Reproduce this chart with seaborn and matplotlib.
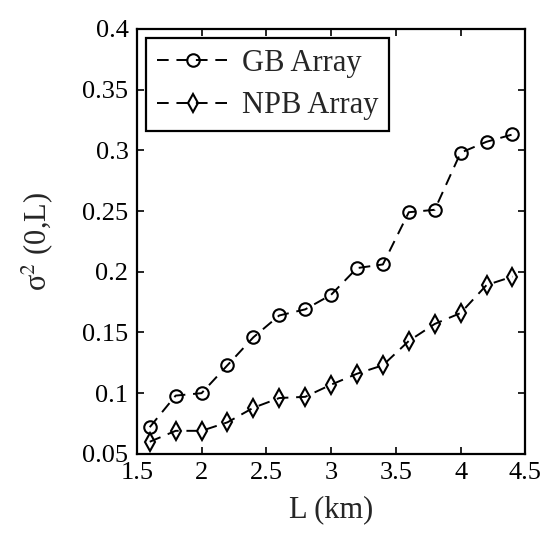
import numpy as np
import pandas as pd
import matplotlib
matplotlib.use('Agg')
import matplotlib.pyplot as plt
import seaborn as sns

# distances (km)
L_km = [1.6, 1.8, 2.0, 2.2, 2.4, 2.6, 2.8, 3.0, 3.2, 3.4, 3.6, 3.8, 4.0, 4.2, 4.4]
gb_array = [0.072, 0.098, 0.100, 0.123, 0.146, 0.164, 0.169, 0.181, 0.203, 0.206,
            0.249, 0.251, 0.298, 0.307, 0.313]
npb_array = [0.060, 0.069, 0.069, 0.076, 0.088, 0.096, 0.097, 0.107, 0.116, 0.123,
             0.143, 0.157, 0.166, 0.189, 0.196]

x_ticks = [1.5, 2, 2.5, 3, 3.5, 4, 4.5]
x_ticklabels = ['1.5', '2', '2.5', '3', '3.5', '4', '4.5']
y_ticks = [0.05, 0.1, 0.15, 0.2, 0.25, 0.3, 0.35, 0.4]
y_ticklabels = ['0.05', '0.1', '0.15', '0.2', '0.25', '0.3', '0.35', '0.4']

sns.set_style('ticks')
plt.rcParams['font.family'] = ['Liberation Serif', 'DejaVu Serif']
plt.rcParams['mathtext.fontset'] = 'stix'

df = pd.DataFrame({'L': L_km, 'GB Array': gb_array, 'NPB Array': npb_array})

fig = plt.figure(figsize=(5.45, 5.34), dpi=100)
ax = fig.add_axes([0.251, 0.150, 0.713, 0.796])

line_kw = dict(color='black', linewidth=1.4, dashes=(6, 4), markersize=9,
               mfc='none', mec='black', mew=1.5)
sns.lineplot(data=df, x='L', y='GB Array', marker='o', label='GB Array', ax=ax, **line_kw)
sns.lineplot(data=df, x='L', y='NPB Array', marker='d', label='NPB Array', ax=ax, **line_kw)

ax.set_xlim(1.5, 4.5)
ax.set_ylim(0.05, 0.4)
ax.set_xticks(x_ticks)
ax.set_xticklabels(x_ticklabels)
ax.set_yticks(y_ticks)
ax.set_yticklabels(y_ticklabels)
ax.tick_params(direction='in', top=True, right=True, length=5, width=1.2,
               labelsize=19, colors='black', pad=6)
for sp in ax.spines.values():
    sp.set_visible(True)
    sp.set_linewidth(1.6)
    sp.set_color('black')

ax.set_xlabel('L (km)', fontsize=22, labelpad=8)
ax.set_ylabel(r'σ$^{2}$ (0,L)', fontsize=22, labelpad=20)

leg = ax.legend(loc='upper left', fontsize=22, handlelength=2.4, handletextpad=0.4,
                borderaxespad=0.3, borderpad=0.35, labelspacing=0.45, fancybox=False)
leg.get_frame().set_edgecolor('black')
leg.get_frame().set_linewidth(1.6)
leg.get_frame().set_alpha(1)

fig.savefig('out.png', dpi=100)
